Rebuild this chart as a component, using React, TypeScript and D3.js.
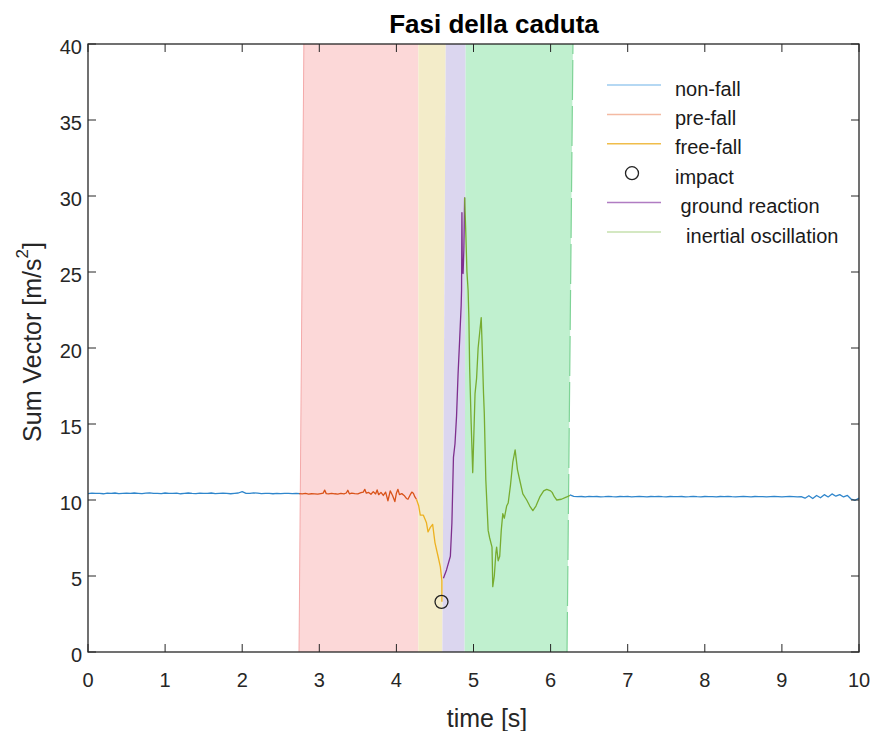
import React from "react";
import * as d3 from "d3";

// ---------- data ----------
const X_TICKS = [0, 1, 2, 3, 4, 5, 6, 7, 8, 9, 10];
const Y_TICKS = [0, 5, 10, 15, 20, 25, 30, 35, 40];

// phase shading (time bounds at bottom / top of the axes)
const PHASE_NAMES = ["pre-fall", "free-fall", "ground reaction", "inertial oscillation"];
const PHASE_START_BOTTOM = [2.737, 4.285, 4.596, 4.885];
const PHASE_START_TOP = [2.8, 4.285, 4.64, 4.898];
const PHASE_END_BOTTOM = [4.285, 4.596, 4.885, 6.213];
const PHASE_END_TOP = [4.285, 4.64, 4.898, 6.29];
const PHASE_FILL = ["#fcd8d8", "#f3ecc9", "#dbd6ef", "#c0f0cf"];

// non-fall, first part: sampled every 0.05 s from 0 s
const NONFALL_A_START = 0;
const NONFALL_A_STEP = 0.05;
const NONFALL_A_V = [
  10.42, 10.45, 10.43, 10.44, 10.41, 10.45, 10.43, 10.46, 10.42, 10.44, 10.45, 10.43, 10.46, 10.44,
  10.42, 10.45, 10.47, 10.43, 10.44, 10.42, 10.46, 10.44, 10.43, 10.45, 10.41, 10.44, 10.46, 10.43,
  10.42, 10.45, 10.44, 10.43, 10.46, 10.42, 10.44, 10.45, 10.43, 10.41, 10.44, 10.46, 10.55, 10.44,
  10.43, 10.47, 10.45, 10.42, 10.44, 10.43, 10.41, 10.43, 10.42, 10.44, 10.43, 10.42, 10.43, 10.42,
];
// non-fall, second part: sampled every 0.05 s from 6.25 s
const NONFALL_B_START = 6.25;
const NONFALL_B_STEP = 0.05;
const NONFALL_B_V = [
  10.33, 10.24, 10.22, 10.23, 10.21, 10.24, 10.22, 10.23, 10.21, 10.22, 10.24, 10.22, 10.21, 10.23,
  10.22, 10.24, 10.21, 10.22, 10.23, 10.22, 10.21, 10.23, 10.22, 10.24, 10.22, 10.21, 10.23, 10.22,
  10.22, 10.23, 10.21, 10.22, 10.24, 10.22, 10.21, 10.23, 10.22, 10.22, 10.21, 10.23, 10.22, 10.24,
  10.22, 10.21, 10.22, 10.23, 10.22, 10.21, 10.23, 10.22, 10.22, 10.21, 10.22, 10.23, 10.22, 10.21,
  10.22, 10.23, 10.22, 10.21, 10.22, 10.12, 10.28, 10.1, 10.3, 10.15, 10.35, 10.2, 10.4, 10.25,
  10.35, 10.2, 10.3, 10.05, 9.98, 10.12,
];

const PREFALL_T = [
  2.74, 2.78, 2.82, 2.86, 2.9, 2.94, 2.98, 3.02, 3.05, 3.07, 3.09, 3.12, 3.16, 3.2, 3.24, 3.28, 3.32,
  3.35, 3.37, 3.39, 3.42, 3.46, 3.5, 3.54, 3.57, 3.59, 3.61, 3.64, 3.67, 3.7, 3.73, 3.75, 3.77, 3.8,
  3.83, 3.86, 3.89, 3.92, 3.95, 3.98, 4.0, 4.02, 4.04, 4.07, 4.1, 4.13, 4.15, 4.18, 4.2, 4.22, 4.24,
  4.26,
];
const PREFALL_V = [
  10.42, 10.4, 10.43, 10.39, 10.41, 10.4, 10.38, 10.42, 10.45, 10.65, 10.42, 10.4, 10.44, 10.41,
  10.39, 10.43, 10.4, 10.46, 10.64, 10.41, 10.45, 10.42, 10.4, 10.48, 10.52, 10.7, 10.45, 10.5,
  10.38, 10.55, 10.4, 10.66, 10.35, 10.5, 10.3, 10.52, 9.95, 10.6, 10.3, 9.9, 10.45, 10.7, 10.35,
  10.42, 10.3, 10.1, 10.05, 10.35, 10.52, 10.45, 10.2, 10.05,
];

const FREEFALL_T = [4.26, 4.29, 4.31, 4.35, 4.39, 4.41, 4.44, 4.47, 4.5, 4.54, 4.57, 4.59, 4.59];
const FREEFALL_V = [10.05, 9.6, 9.0, 9.0, 8.5, 7.9, 8.2, 8.4, 7.2, 6.3, 5.6, 4.7, 3.3];

const IMPACT_T = [4.585];
const IMPACT_V = [3.3];

const GROUND_T = [
  4.61, 4.65, 4.7, 4.72, 4.74, 4.76, 4.78, 4.8, 4.82, 4.84, 4.845, 4.85, 4.855, 4.865, 4.875, 4.885,
];
const GROUND_V = [
  4.85, 5.4, 6.3, 8.5, 12.8, 13.7, 15.5, 18.3, 20.5, 22.8, 23.8, 28.9, 25.0, 24.9, 26.5, 29.9,
];

const INERTIAL_T = [
  4.885, 4.9, 4.915, 4.93, 4.94, 4.95, 4.97, 4.99, 5.0, 5.02, 5.04, 5.06, 5.08, 5.1, 5.11, 5.13, 5.14,
  5.16, 5.19, 5.21, 5.24, 5.25, 5.27, 5.29, 5.3, 5.32, 5.34, 5.36, 5.38, 5.4, 5.43, 5.45, 5.48, 5.51,
  5.54, 5.57, 5.6, 5.64, 5.69, 5.73, 5.77, 5.81, 5.86, 5.91, 5.95, 6.0, 6.02, 6.05, 6.08, 6.14, 6.21,
  6.25,
];
const INERTIAL_V = [
  29.9, 27.6, 25.0, 23.8, 22.0, 18.7, 15.0, 11.8, 13.5, 17.0, 18.0, 20.0, 21.0, 22.0, 20.5, 17.0,
  15.7, 11.3, 8.0, 7.5, 6.9, 4.3, 5.0, 6.5, 6.9, 6.0, 6.3, 8.0, 9.1, 8.8, 9.6, 9.8, 11.0, 12.5, 13.3,
  12.0, 11.3, 10.4, 10.0, 9.6, 9.3, 9.6, 10.2, 10.6, 10.7, 10.6, 10.5, 10.2, 10.0, 10.05, 10.2, 10.3,
];

const LEGEND_LABELS = ["non-fall", "pre-fall", "free-fall", "impact", " ground reaction", "  inertial oscillation"];
const LEGEND_COLORS = ["#9ccbef", "#f4baa3", "#f0bd4a", "#000000", "#b07cc2", "#c6e0ae"];

const LINE_COLORS = {
  nonFall: "#2f86cc",
  preFall: "#D95319",
  freeFall: "#EDB120",
  ground: "#7E2F8E",
  inertial: "#77AC30",
};

// ---------- helpers ----------
const zip = (t: number[], v: number[]) => {
  const n = Math.min(t.length, v.length);
  const out: [number, number][] = [];
  for (let i = 0; i < n; i++) out.push([t[i], v[i]]);
  return out;
};
const sampled = (start: number, step: number, v: number[]) =>
  v.map((val, i) => [start + i * step, val] as [number, number]);

const W = 881;
const H = 731;
const L = 88;
const R = 859;
const T = 44;
const B = 652;
const FONT = "'Liberation Sans', Arial, Helvetica, sans-serif";
const AX = "#262626";

export default function App() {
  const x = d3.scaleLinear().domain([0, 10]).range([L, R]);
  const y = d3.scaleLinear().domain([0, 40]).range([B, T]);
  const line = d3
    .line<[number, number]>()
    .x((d) => x(d[0]))
    .y((d) => y(d[1]));

  const series = [
    { d: sampled(NONFALL_A_START, NONFALL_A_STEP, NONFALL_A_V), c: LINE_COLORS.nonFall },
    { d: sampled(NONFALL_B_START, NONFALL_B_STEP, NONFALL_B_V), c: LINE_COLORS.nonFall },
    { d: zip(PREFALL_T, PREFALL_V), c: LINE_COLORS.preFall },
    { d: zip(FREEFALL_T, FREEFALL_V), c: LINE_COLORS.freeFall },
    { d: zip(GROUND_T, GROUND_V), c: LINE_COLORS.ground },
    { d: zip(INERTIAL_T, INERTIAL_V), c: LINE_COLORS.inertial },
  ];

  const yTop = y.domain()[1];
  const yBot = y.domain()[0];

  const legendX1 = 607;
  const legendX2 = 661;
  const legendTextX = 675;
  const legendY0 = 85;
  const legendDY = 29.4;

  return (
    <svg
      width={W}
      height={H}
      style={{ position: "absolute", left: 0, top: 0, background: "#fff" }}
      fontFamily={FONT}
    >
      <rect x={0} y={0} width={W} height={H} fill="#fff" />
      {/* phase patches */}
      {PHASE_NAMES.map((name, i) => {
        const pts = [
          [x(PHASE_START_BOTTOM[i]), y(yBot)],
          [x(PHASE_END_BOTTOM[i]), y(yBot)],
          [x(PHASE_END_TOP[i]), y(yTop)],
          [x(PHASE_START_TOP[i]), y(yTop)],
        ];
        return (
          <polygon key={name} points={pts.map((p) => p.join(",")).join(" ")} fill={PHASE_FILL[i]} />
        );
      })}
      {/* patch edge lines */}
      <line
        x1={x(PHASE_START_BOTTOM[0])}
        y1={y(yBot)}
        x2={x(PHASE_START_TOP[0])}
        y2={y(yTop)}
        stroke="#f4a9a9"
        strokeWidth={1}
      />
      <line
        x1={x(PHASE_END_BOTTOM[3])}
        y1={y(yBot)}
        x2={x(PHASE_END_TOP[3])}
        y2={y(yTop)}
        stroke="#7fd397"
        strokeWidth={1.2}
        strokeDasharray="40 6"
      />

      {/* data lines */}
      {series.map((s, i) => (
        <path key={i} d={line(s.d) || ""} fill="none" stroke={s.c} strokeWidth={1.3} strokeLinejoin="round" />
      ))}
      {zip(IMPACT_T, IMPACT_V).map((p, i) => (
        <circle key={i} cx={x(p[0])} cy={y(p[1])} r={6.5} fill="none" stroke="#222" strokeWidth={1.3} />
      ))}

      {/* axes box */}
      <rect x={L} y={T} width={R - L} height={B - T} fill="none" stroke={AX} strokeWidth={1.3} />
      {X_TICKS.map((t) => (
        <g key={"xt" + t}>
          <line x1={x(t)} x2={x(t)} y1={B} y2={B - 8} stroke={AX} strokeWidth={1} />
          <line x1={x(t)} x2={x(t)} y1={T} y2={T + 8} stroke={AX} strokeWidth={1} />
          <text x={x(t)} y={680} textAnchor="middle" dominantBaseline="central" fontSize={20} fill={AX}>
            {t}
          </text>
        </g>
      ))}
      {Y_TICKS.map((v) => (
        <g key={"yt" + v}>
          <line x1={L} x2={L + 8} y1={y(v)} y2={y(v)} stroke={AX} strokeWidth={1} />
          <line x1={R} x2={R - 8} y1={y(v)} y2={y(v)} stroke={AX} strokeWidth={1} />
          <text x={82} y={y(v) + 3} textAnchor="end" dominantBaseline="central" fontSize={20} fill={AX}>
            {v}
          </text>
        </g>
      ))}

      {/* title and labels */}
      <text x={494} y={33} textAnchor="middle" fontSize={26} fontWeight="bold" fill="#000">
        Fasi della caduta
      </text>
      <text x={487} y={718} textAnchor="middle" dominantBaseline="central" fontSize={25} fill={AX}>
        time [s]
      </text>
      <text
        transform={`translate(32,342) rotate(-90)`}
        textAnchor="middle"
        dominantBaseline="central"
        fontSize={25}
        fill={AX}
      >
        Sum Vector [m/s
        <tspan fontSize={17} dy={-10}>
          2
        </tspan>
        <tspan dy={10}>]</tspan>
      </text>

      {/* legend */}
      {LEGEND_LABELS.map((lab, i) => {
        const ly = legendY0 + i * legendDY;
        return (
          <g key={"lg" + i}>
            {i === 3 ? (
              <circle cx={(legendX1 + legendX2) / 2 - 2} cy={ly} r={6.5} fill="none" stroke="#222" strokeWidth={1.3} />
            ) : (
              <line x1={legendX1} x2={legendX2} y1={ly} y2={ly} stroke={LEGEND_COLORS[i]} strokeWidth={1.5} />
            )}
            <text x={legendTextX} y={ly + 10.5} fontSize={20} fill="#1a1a1a" style={{ whiteSpace: "pre" }}>
              {lab}
            </text>
          </g>
        );
      })}
    </svg>
  );
}
